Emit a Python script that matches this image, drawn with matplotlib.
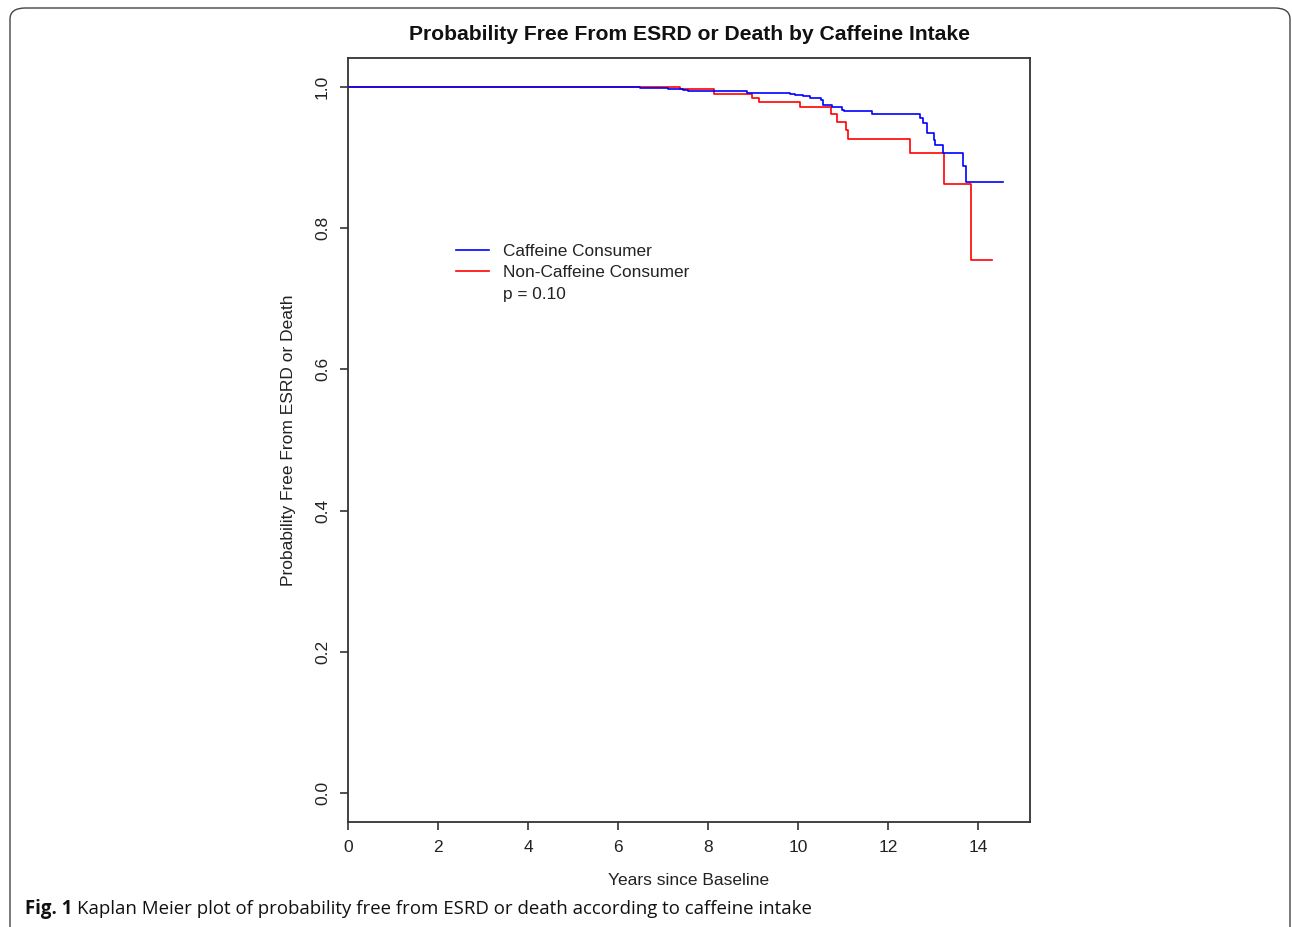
import matplotlib
matplotlib.use("Agg")
import matplotlib.pyplot as plt
from matplotlib.lines import Line2D
from matplotlib.patches import FancyBboxPatch

plt.rcParams['font.family'] = ['Liberation Sans', 'DejaVu Sans']

# Kaplan-Meier step values (time in years, survival)
caff_time = [0, 6.49, 7.10, 7.44, 7.56, 8.87, 9.82, 9.93, 10.11, 10.27, 10.50,
             10.55, 10.75, 10.97, 11.02, 11.64, 12.70, 12.78, 12.86, 13.01,
             13.03, 13.21, 13.67, 13.73, 14.55]
caff_surv = [1.0, 0.9986, 0.9972, 0.9958, 0.994, 0.992, 0.990, 0.989, 0.987,
             0.985, 0.982, 0.975, 0.971, 0.968, 0.966, 0.961, 0.9565, 0.949,
             0.935, 0.925, 0.918, 0.907, 0.888, 0.866, 0.866]

noncaff_time = [0, 7.38, 8.13, 8.97, 9.13, 10.03, 10.74, 10.87, 11.07, 11.10,
                12.49, 13.23, 13.84, 14.31]
noncaff_surv = [1.0, 0.997, 0.990, 0.985, 0.978, 0.971, 0.961, 0.950, 0.939,
                0.926, 0.907, 0.862, 0.755, 0.755]

labels = ["Caffeine Consumer", "Non-Caffeine Consumer"]
p_text = "p = 0.10"

x_ticks = [0, 2, 4, 6, 8, 10, 12, 14]
y_ticks = [0.0, 0.2, 0.4, 0.6, 0.8, 1.0]

fig = plt.figure(figsize=(12.92, 9.27), dpi=100)
W, H = 1292, 927

# journal panel frame
frame = FancyBboxPatch((10 / W, -0.05), 1280 / W, 1 - 8 / H + 0.05,
                       boxstyle="round,pad=0,rounding_size=0.012",
                       transform=fig.transFigure, fill=False,
                       edgecolor="#444444", linewidth=1.0, clip_on=False)
fig.patches.append(frame)

ax = fig.add_axes([348 / W, 1 - 822 / H, (1030 - 348) / W, (822 - 58) / H])

ax.plot(noncaff_time, noncaff_surv, drawstyle='steps-post', color='#ff0000', lw=1.2)
ax.plot(caff_time, caff_surv, drawstyle='steps-post', color='#0000ff', lw=1.2)

ax.set_xlim(0, 15.15)
ax.set_ylim(-0.041, 1.041)
ax.set_xticks(x_ticks)
ax.set_xticklabels([str(v) for v in x_ticks])
ax.set_yticks(y_ticks)
ax.set_yticklabels([f"{v:.1f}" for v in y_ticks], rotation=90, va='center')

for s in ax.spines.values():
    s.set_color('#333333')
    s.set_linewidth(1.3)
ax.tick_params(direction='out', length=6, width=1.2, color='#333333',
               labelsize=12.5, labelcolor='#222222', pad=7)

ax.set_xlabel("Years since Baseline", fontsize=12.5, color='#222222', labelpad=13)
ax.set_ylabel("Probability Free From ESRD or Death", fontsize=12.5,
              color='#222222', labelpad=14)
fig.text(689 / W, 1 - 34 / H, "Probability Free From ESRD or Death by Caffeine Intake",
         ha='center', va='center', fontsize=15.2, fontweight='bold', color='#111111')

handles = [Line2D([], [], color='#0000ff', lw=1.2),
           Line2D([], [], color='#ff0000', lw=1.2),
           Line2D([], [], color='none')]
ax.legend(handles, labels + [p_text], loc='upper left',
          bbox_to_anchor=(442 / W, 1 - 230 / H), bbox_transform=fig.transFigure,
          frameon=False, fontsize=12.4, handlelength=1.95, handletextpad=0.8,
          labelspacing=0.38, borderpad=0.3, labelcolor='#222222')

# caption
cap_font = ['Open Sans', 'DejaVu Sans']
t1 = fig.text(25 / W, 1 - 909 / H, "Fig. 1", ha='left', va='center', fontsize=13.4,
              fontweight='bold', family=cap_font, color='#111111')
renderer = fig.canvas.get_renderer()
bb = t1.get_window_extent(renderer)
fig.text((bb.x1 + 5) / W, 1 - 909 / H,
         "Kaplan Meier plot of probability free from ESRD or death according to caffeine intake",
         ha='left', va='center', fontsize=13.4, family=cap_font, color='#111111')

fig.savefig("out.png", dpi=100)
